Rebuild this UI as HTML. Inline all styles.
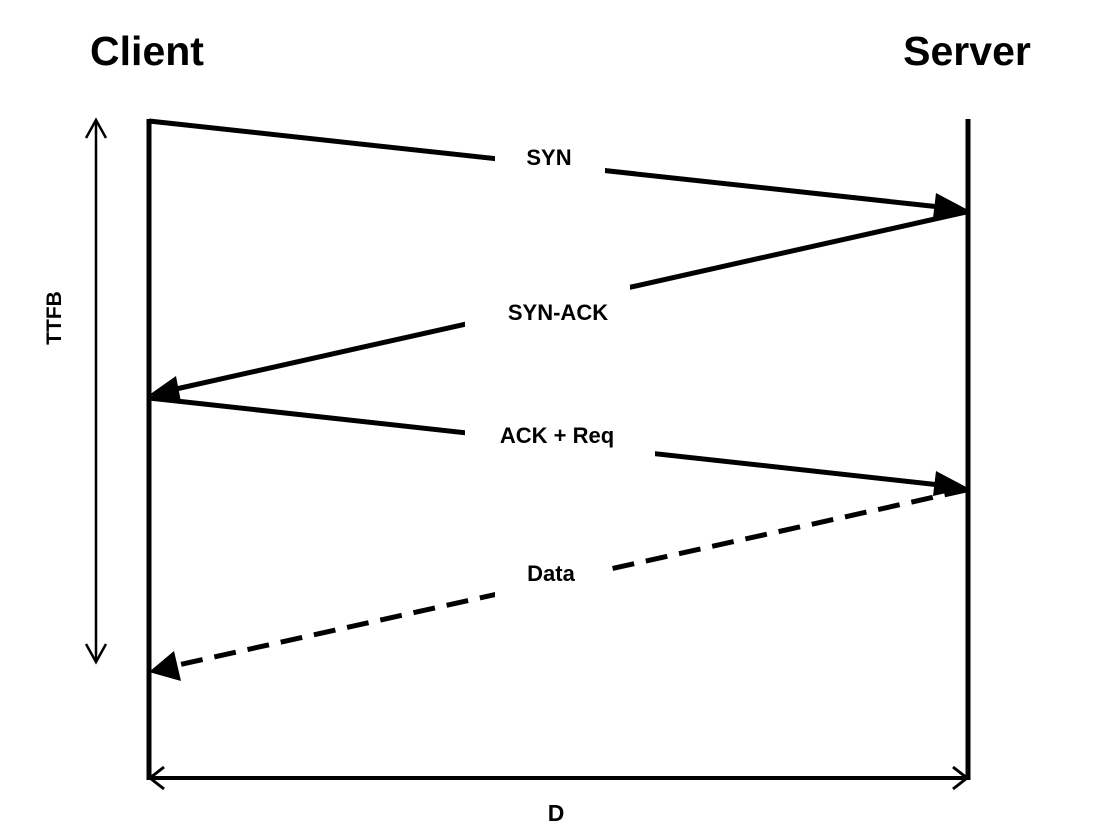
<!DOCTYPE html>
<html><head><style>
body{margin:0;background:#fff;width:1103px;height:832px;overflow:hidden}
svg text{font-family:"Liberation Sans",sans-serif;font-weight:bold;fill:#000}
</style></head><body>
<svg width="1103" height="832" viewBox="0 0 1103 832">
<text x="147" y="65" font-size="41" text-anchor="middle">Client</text>
<text x="967" y="65" font-size="41" text-anchor="middle">Server</text>
<line x1="149" y1="119" x2="149" y2="780" stroke="#000" stroke-width="5"/>
<line x1="968" y1="119" x2="968" y2="780" stroke="#000" stroke-width="5"/>
<!-- TTFB -->
<line x1="96" y1="120" x2="96" y2="660" stroke="#000" stroke-width="2.5"/>
<polyline points="86,138 96,120 106,138" fill="none" stroke="#000" stroke-width="2.5"/>
<polyline points="86,644 96,662 106,644" fill="none" stroke="#000" stroke-width="2.5"/>
<text x="0" y="0" font-size="21" text-anchor="middle" transform="translate(61,318) rotate(-90)">TTFB</text>
<!-- D -->
<line x1="150" y1="778" x2="967" y2="778" stroke="#000" stroke-width="4"/>
<polyline points="164,767 150,778 164,789" fill="none" stroke="#000" stroke-width="3"/>
<polyline points="953,767 967,778 953,789" fill="none" stroke="#000" stroke-width="3"/>
<text x="556" y="821" font-size="23" text-anchor="middle">D</text>
<!-- SYN -->
<line x1="149" y1="121" x2="940" y2="207" stroke="#000" stroke-width="5"/>
<polygon points="968,210 936,193 933,218" fill="#000"/>
<rect x="495" y="138" width="110" height="40" fill="#fff"/>
<text x="549" y="165" font-size="22" text-anchor="middle">SYN</text>
<!-- SYN-ACK -->
<line x1="966" y1="212" x2="176" y2="389" stroke="#000" stroke-width="5"/>
<polygon points="149,395 176,376 181,402" fill="#000"/>
<rect x="465" y="285" width="165" height="50" fill="#fff"/>
<text x="558" y="320" font-size="22" text-anchor="middle">SYN-ACK</text>
<!-- ACK+Req -->
<line x1="149" y1="398" x2="940" y2="485" stroke="#000" stroke-width="5"/>
<polygon points="968,488 936,471 933,496" fill="#000"/>
<rect x="465" y="415" width="190" height="42" fill="#fff"/>
<text x="557" y="443" font-size="22" text-anchor="middle">ACK + Req</text>
<!-- Data -->
<line x1="966" y1="490" x2="178" y2="665" stroke="#000" stroke-width="5" stroke-dasharray="22,12"/>
<polygon points="149,672 174,651 181,681" fill="#000"/>
<rect x="495" y="550" width="110" height="50" fill="#fff"/>
<text x="551" y="581" font-size="22" text-anchor="middle">Data</text>
</svg>
</body></html>
